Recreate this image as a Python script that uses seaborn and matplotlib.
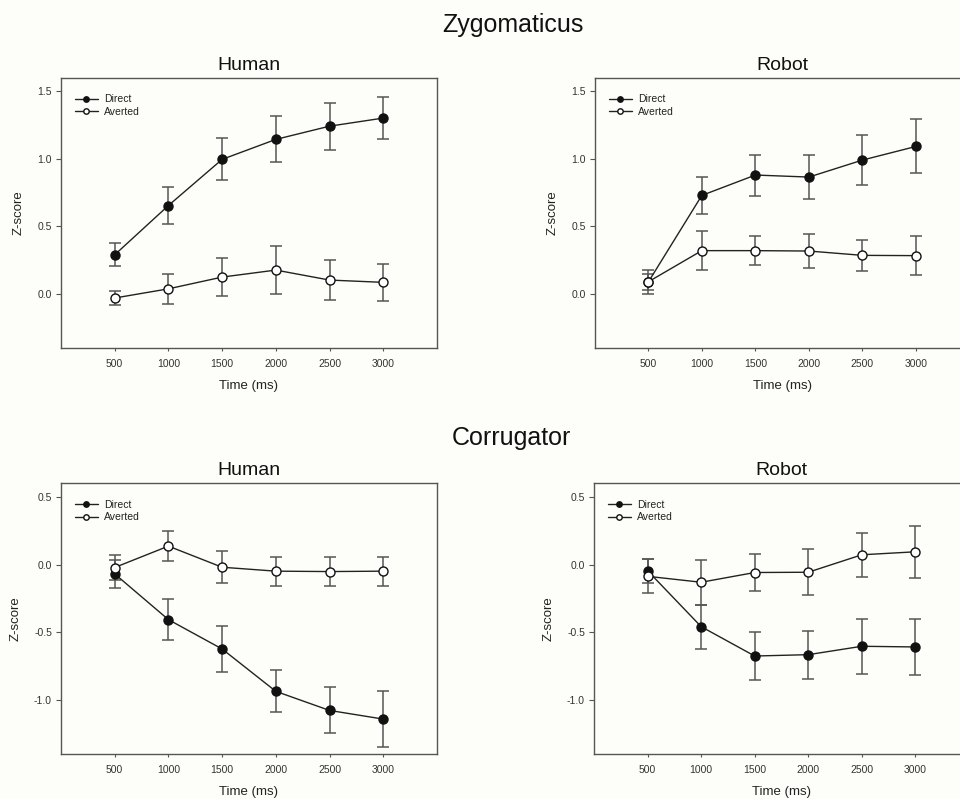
import matplotlib
matplotlib.use("Agg")
import matplotlib.pyplot as plt
import seaborn as sns

# time points (ms)
times = [500, 1000, 1500, 2000, 2500, 3000]

# Zygomaticus - Human
zyg_human_direct = [0.29, 0.655, 0.997, 1.145, 1.243, 1.303]
zyg_human_direct_err = [0.086, 0.135, 0.155, 0.17, 0.175, 0.157]
zyg_human_averted = [-0.03, 0.038, 0.125, 0.177, 0.103, 0.086]
zyg_human_averted_err = [0.054, 0.11, 0.142, 0.177, 0.15, 0.136]

# Zygomaticus - Robot
zyg_robot_direct = [0.088, 0.73, 0.881, 0.866, 0.992, 1.093]
zyg_robot_direct_err = [0.087, 0.136, 0.152, 0.165, 0.185, 0.2]
zyg_robot_averted = [0.09, 0.321, 0.321, 0.318, 0.286, 0.284]
zyg_robot_averted_err = [0.058, 0.142, 0.11, 0.125, 0.116, 0.147]

# Corrugator - Human
cor_human_direct = [-0.069, -0.407, -0.624, -0.937, -1.078, -1.142]
cor_human_direct_err = [0.105, 0.152, 0.17, 0.155, 0.17, 0.205]
cor_human_averted = [-0.022, 0.136, -0.02, -0.049, -0.052, -0.049]
cor_human_averted_err = [0.094, 0.112, 0.118, 0.106, 0.11, 0.107]

# Corrugator - Robot
cor_robot_direct = [-0.046, -0.459, -0.676, -0.666, -0.604, -0.609]
cor_robot_direct_err = [0.089, 0.163, 0.174, 0.178, 0.202, 0.207]
cor_robot_averted = [-0.087, -0.131, -0.059, -0.057, 0.072, 0.094]
cor_robot_averted_err = [0.125, 0.165, 0.14, 0.17, 0.163, 0.19]

zyg_yticks = [0.0, 0.5, 1.0, 1.5]
cor_yticks = [-1.0, -0.5, 0.0, 0.5]

sns.set_style("ticks")
plt.rcParams["font.family"] = ["Liberation Sans", "DejaVu Sans"]
plt.rcParams["axes.unicode_minus"] = False
plt.rcParams["text.color"] = "#222222"

bg = "#fdfdf9"
fig = plt.figure(figsize=(9.6, 7.99), dpi=100, facecolor=bg)


def draw_panel(rect, title, direct, direct_err, averted, averted_err, ylim, yticks):
    ax = fig.add_axes(rect)
    ax.set_facecolor(bg)
    series = [("Direct", direct, direct_err, "#111111"),
              ("Averted", averted, averted_err, "white")]
    for name, vals, errs, face in series:
        ax.errorbar(times, vals, yerr=errs, fmt="none", ecolor="#555555",
                    elinewidth=1.1, capsize=4, capthick=1.1, zorder=2)
        sns.lineplot(x=times, y=vals, ax=ax, color="#222222", linewidth=1.0,
                     marker="o", markersize=6.5, markerfacecolor=face,
                     markeredgecolor="#111111", markeredgewidth=1.0,
                     label=name, zorder=3)
    ax.set_xlim(0, 3500)
    ax.set_xticks(times)
    ax.set_ylim(*ylim)
    ax.set_yticks(yticks)
    ax.set_yticklabels([f"{v:.1f}" for v in yticks])
    ax.tick_params(axis="both", labelsize=7.5, colors="#555555", labelcolor="#333333")
    ax.tick_params(axis="x", length=2.5, pad=5.5)
    ax.tick_params(axis="y", length=3.5, pad=3)
    for sp in ax.spines.values():
        sp.set_color("#555555")
        sp.set_linewidth(1.0)
    ax.set_xlabel("Time (ms)", fontsize=9.5, labelpad=8, color="#222222")
    ax.set_ylabel("Z-score", fontsize=9.5, labelpad=9, color="#222222")
    ax.set_title(title, fontsize=14, pad=6, color="#111111")
    ax.legend(loc="upper left", bbox_to_anchor=(0.037, 0.94), frameon=False,
              fontsize=7.5, markerscale=0.6, handlelength=2.2,
              handletextpad=0.6, labelspacing=0.25, borderpad=0,
              borderaxespad=0)
    return ax


draw_panel([0.0635, 0.5645, 0.3917, 0.3379], "Human",
           zyg_human_direct, zyg_human_direct_err,
           zyg_human_averted, zyg_human_averted_err, (-0.4, 1.6), zyg_yticks)
draw_panel([0.6195, 0.5645, 0.3905, 0.3379], "Robot",
           zyg_robot_direct, zyg_robot_direct_err,
           zyg_robot_averted, zyg_robot_averted_err, (-0.4, 1.6), zyg_yticks)
draw_panel([0.0635, 0.0563, 0.3917, 0.3388], "Human",
           cor_human_direct, cor_human_direct_err,
           cor_human_averted, cor_human_averted_err, (-1.4, 0.6), cor_yticks)
draw_panel([0.6188, 0.0563, 0.3905, 0.3388], "Robot",
           cor_robot_direct, cor_robot_direct_err,
           cor_robot_averted, cor_robot_averted_err, (-1.4, 0.6), cor_yticks)

fig.text(0.534, 1 - 32 / 799, "Zygomaticus", ha="center", va="baseline",
         fontsize=18, color="#111111")
fig.text(0.533, 1 - 445 / 799, "Corrugator", ha="center", va="baseline",
         fontsize=18, color="#111111")

fig.savefig("out.png", dpi=100, facecolor=bg)
